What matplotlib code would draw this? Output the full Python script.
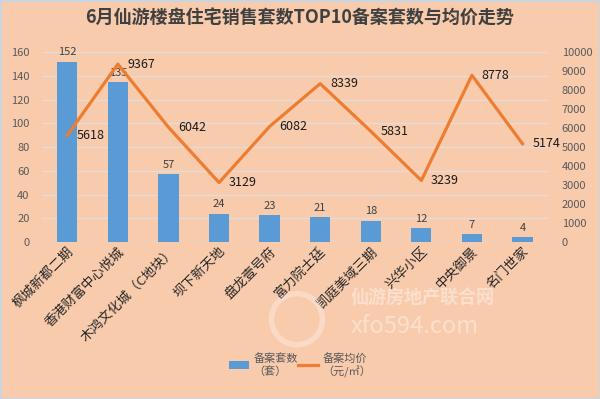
import numpy as np
import matplotlib.pyplot as plt
from matplotlib.patches import Ellipse

plt.rcParams['font.family'] = ['Noto Sans CJK SC', 'DejaVu Sans']

# data
names = ['枫城新都二期', '香港财富中心悦城', '木鸿文化城（C地块）', '坝下新天地', '盘龙壹号府',
         '富力院士廷', '凯庭美域三期', '兴华小区', '中央御景', '名门世家']
units = [152, 135, 57, 24, 23, 21, 18, 12, 7, 4]
prices = [5618, 9367, 6042, 3129, 6082, 8339, 5831, 3239, 8778, 5174]

bg = '#F8CBAD'
blue = '#5B9BD5'
orange = '#ED7D31'

fig = plt.figure(figsize=(6, 3.99), dpi=100)
fig.patch.set_facecolor(bg)
fig.patch.set_edgecolor('#C9D6DF')
fig.patch.set_linewidth(2)

ax = fig.add_axes([0.07, 0.3935, 0.843, 0.476])
ax.set_facecolor('none')
x = np.arange(len(names))

ax.bar(x, units, width=0.4, color=blue, zorder=2, label='备案套数\n（套）')
for xi, v in zip(x, units):
    ax.annotate(str(v), (xi, v), xytext=(0, 3), textcoords='offset points',
                ha='center', va='bottom', fontsize=8, color='#404040')

ax.set_ylim(0, 160)
ax.set_yticks(np.arange(0, 161, 20))
ax.set_xlim(-0.5, len(names) - 0.5)
ax.grid(axis='y', color='#E3DCD8', lw=1, zorder=0)
ax.set_axisbelow(True)
ax.set_xticks(x)
ax.set_xticklabels(names, rotation=45, ha='right', rotation_mode='anchor',
                   fontsize=9.5, color='#262626')
ax.tick_params(axis='y', length=0, labelsize=8, labelcolor='#595959', pad=9)
ax.tick_params(axis='x', length=0, pad=2)
for s in ax.spines.values():
    s.set_visible(False)
ax.axhline(0, color='#D9D9D9', lw=1, zorder=1)

ax2 = ax.twinx()
ax2.plot(x, prices, color=orange, lw=2.3, zorder=3, label='备案均价\n（元/㎡）')
for xi, v in zip(x, prices):
    ax2.annotate(str(v), (xi, v), xytext=(7, 0), textcoords='offset points',
                 ha='left', va='center', fontsize=9, color='#1a1a1a')
ax2.set_ylim(0, 10000)
ax2.set_yticks(np.arange(0, 10001, 1000))
ax2.tick_params(axis='y', length=0, labelsize=8, labelcolor='#595959', pad=10)
for s in ax2.spines.values():
    s.set_visible(False)

fig.text(0.5, 0.955, '6月仙游楼盘住宅销售套数TOP10备案套数与均价走势', ha='center', va='center',
         fontsize=13, fontweight='bold', color='#404040')

# faint watermark
fig.patches.append(Ellipse((0.495, 0.2), 0.085, 0.128, transform=fig.transFigure, fill=False,
                           ec='white', lw=4, alpha=0.3))
fig.text(0.585, 0.24, '仙游房地产联合网', fontsize=13, color='white', alpha=0.4, fontweight='bold')
fig.text(0.585, 0.165, 'xfo594.com', fontsize=17, color='white', alpha=0.4)

h1, l1 = ax.get_legend_handles_labels()
h2, l2 = ax2.get_legend_handles_labels()
fig.legend(h1 + h2, l1 + l2, loc='center', bbox_to_anchor=(0.5, 0.085), ncol=2, frameon=False,
           fontsize=8, labelcolor='#595959', handlelength=1.8, columnspacing=0.0, handletextpad=0.4)

fig.savefig('out.png', dpi=100, facecolor=bg, edgecolor=fig.get_edgecolor())
